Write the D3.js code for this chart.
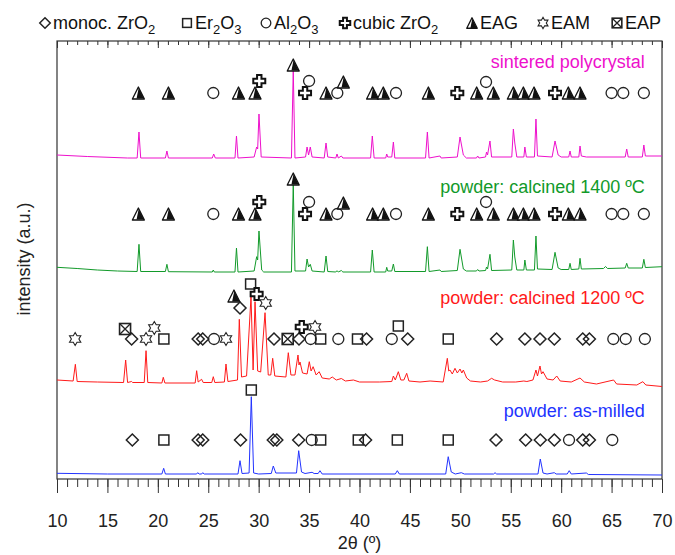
<!DOCTYPE html>
<html>
<head>
<meta charset="utf-8">
<script src="https://cdn.jsdelivr.net/npm/d3@7"></script>
<style>
  body { margin: 0; background: #fff; }
  text { font-family: "Liberation Sans", Arial, sans-serif; }
</style>
</head>
<body>
<div id="chart"></div>
<script>
// x axis ticks
const majorTicks = [10, 15, 20, 25, 30, 35, 40, 45, 50, 55, 60, 65, 70];
const minorTicks = d3.range(10, 71, 1);

// phases shown in the legend
const phaseKeys  = ["mZr", "Er", "Al", "cZr", "EAG", "EAM", "EAP"];
const phaseNames = [["monoc. ZrO", "2"], ["Er", "2", "O", "3"], ["Al", "2", "O", "3"], ["cubic ZrO", "2"], ["EAG"], ["EAM"], ["EAP"]];
const legendX    = [45, 187, 266, 345, 472, 543, 617];

// pattern labels
const seriesNames  = ["sintered polycrystal", "powder: calcined 1400 ºC", "powder: calcined 1200 ºC", "powder: as-milled"];
const seriesColors = ["#ee10cc", "#129a2a", "#ff1a1a", "#2233ff"];
const labelLevel   = [411, 286, 175, 62];

// diffractograms, [2theta, intensity (a.u., stacked)]
const sintered = [[10,324],[13,322.5],[17,321],[17.95,321],[18.13,347],[18.3,321],[20.75,321],[20.9,328],[21.05,321],[25.4,321],[25.54,325],[25.7,321],[27.65,321],[27.8,343],[27.95,321],[29.55,322],[29.8,332],[29.9,330],[30.03,365],[30.25,322],[33.25,321],[33.43,409],[33.6,321],[34.65,322],[34.8,332],[34.95,324],[35.12,332],[35.3,322],[36.5,321],[36.68,336],[36.85,322],[37.65,321],[37.77,325],[37.9,321],[38.2,323],[38.35,321],[41.1,321],[41.27,343],[41.45,321],[42.6,321],[42.7,325],[42.8,322],[43.2,322],[43.36,337],[43.5,321],[46.55,321],[46.73,347],[46.9,321],[47.98,323],[48.1,321],[49.7,322],[49.97,342],[50.3,324],[50.6,321],[51.6,321],[51.72,323],[51.85,321],[52.5,322],[52.6,327],[52.7,324],[52.94,338],[53.1,322],[55.1,322],[55.26,350],[55.4,336],[55.6,322],[56.3,322],[56.4,332],[56.55,322],[57.35,322],[57.5,360],[57.65,323],[59.1,322],[59.39,338],[59.7,324],[60.0,322],[60.75,322],[60.88,328],[61.0,322],[61.75,322],[61.87,333],[62.0,323],[62.5,322],[66.35,322],[66.5,330],[66.65,322],[68.05,322],[68.2,334],[68.35,323],[70,323]];

const calc1400 = [[10,211.7],[12,210.5],[14,209],[16,208],[17.95,207.5],[18.13,234.7],[18.3,207.5],[20.75,207.5],[20.9,214.7],[21.05,207.3],[25.4,207],[25.5,209],[25.6,207],[27.65,207],[27.8,231],[27.95,207],[29.55,208],[29.8,222.3],[29.9,219],[30.03,248],[30.3,209],[30.5,207],[33.25,207],[33.43,295],[33.6,208],[34.65,208],[34.8,220],[34.95,212],[35.12,214.7],[35.3,208],[36.5,207],[36.68,223],[36.85,207.5],[37.65,207],[37.77,208.3],[37.9,207],[38.2,208.5],[38.35,207],[41.1,207],[41.27,229],[41.45,207],[42.6,207],[42.7,211.7],[42.8,208],[43.2,208],[43.36,215],[43.5,207.5],[46.55,207.5],[46.73,232.3],[46.9,207.5],[47.98,209],[48.1,207.5],[49.7,208.5],[49.97,229.7],[50.3,210],[50.6,208],[51.6,208],[51.72,209.5],[51.85,208],[52.5,208.5],[52.6,212],[52.7,210],[52.94,224.7],[53.1,208.5],[55.1,209],[55.26,239],[55.4,222],[55.6,209],[56.3,209],[56.4,219],[56.55,209],[57.35,209],[57.5,243],[57.65,210],[59.1,209.5],[59.39,226.7],[59.7,211],[60.0,209.5],[60.75,209.5],[60.88,215.7],[61.0,209.5],[61.75,210],[61.87,220.7],[62.0,210],[64.2,210.5],[64.4,212.5],[64.6,210.5],[66.35,211],[66.5,215.7],[66.65,211],[68.05,211],[68.2,219.7],[68.35,211.5],[70,212.3]];

const calc1200 = [[10,99],[11.6,98],[11.82,114.7],[12.0,97.5],[14,97],[16.6,96.5],[16.81,119],[17.0,96.5],[17.4,97.5],[17.5,96.5],[18.65,96.5],[18.83,128.3],[19.0,96.5],[20.4,96],[20.54,101.7],[20.7,96],[23.7,96],[23.85,108.3],[24.0,97],[24.34,99.7],[24.5,96.5],[25.35,96.5],[25.5,102.3],[25.65,96.5],[26.6,97],[26.76,115],[26.95,97.5],[27.9,99],[28.08,159.7],[28.3,102],[28.8,103],[29.24,182.3],[29.45,109],[29.64,177.3],[29.9,108],[30.2,107],[30.63,166.3],[30.95,104],[31.2,104],[31.39,120.7],[31.6,103],[32.7,102],[32.94,126.3],[33.2,104],[33.6,104],[33.9,124],[34.0,114],[34.1,117],[34.35,106],[34.8,105],[35.02,117.3],[35.2,108],[35.4,112.3],[35.7,104],[36.0,107.3],[36.3,101],[37.0,100],[37.3,102],[37.7,99],[38.2,100.5],[38.6,98],[39.4,99],[40,97],[42,97],[43.2,97.5],[43.36,103],[43.55,99],[43.85,107.3],[44.1,99],[44.4,99],[44.68,105.7],[44.9,98],[46,97],[47,98],[48.3,97],[48.71,120.7],[48.85,108],[48.97,109],[49.2,105],[49.47,110.7],[49.7,106],[49.97,110],[50.15,106],[50.3,109],[50.63,101],[51,98],[52,97],[52.7,98],[53.1,100.7],[53.4,99],[54.2,97],[55.5,97],[56.3,98],[56.6,97.5],[57.2,99],[57.5,109],[57.65,103],[57.9,113],[58.05,105],[58.2,107.3],[58.6,100],[59.2,99],[59.56,103],[59.9,98],[61.0,97],[61.87,101],[62.3,97],[63.5,95],[65.2,99],[65.5,95],[67.5,94],[68.1,97.3],[68.4,94],[70,92.5]];

const asMilled = [[10,5.7],[15,5],[20.4,5],[20.58,10.7],[20.75,5],[23.85,5],[23.95,6.3],[24.1,5],[24.35,5],[24.45,6.3],[24.6,5],[27.95,5],[28.15,18.3],[28.35,5.5],[29.05,6],[29.27,82.3],[29.5,6],[30,5],[31.25,5.5],[31.45,13],[31.7,6],[33.75,6],[33.97,28.3],[34.25,7],[34.6,5.5],[35.3,6.7],[35.5,5.5],[35.9,5.5],[36.08,8.3],[36.3,5],[43.55,5],[43.75,8.3],[43.95,5],[48.55,5],[48.8,22.3],[49.1,7],[49.5,5],[50.1,6.3],[50.4,5],[53.3,5],[53.44,6.3],[53.6,5],[57.7,5],[57.93,20],[58.2,6],[58.6,5],[59.32,6.3],[59.5,5],[60.6,5],[60.8,8.3],[61.0,5],[62.5,6],[62.7,4.5],[70,4]];

// phase markers, [phase, 2theta, level]
const sinteredMarks = [["EAG",18.07,386],["EAG",21.05,386],["Al",25.5,386],["EAG",28.0,386],["EAG",29.64,386],["cZr",30.06,398],["EAG",33.43,414],["cZr",34.6,386],["Al",35.0,398],["EAG",36.68,386],["Al",37.8,386],["EAG",38.4,397],["EAG",41.3,386],["EAG",42.36,386],["Al",43.62,386],["EAG",46.83,386],["cZr",49.7,386],["EAG",51.62,386],["Al",52.55,397],["EAG",53.27,386],["EAG",55.26,386],["EAG",56.25,386],["EAG",57.31,386],["cZr",59.39,386],["EAG",60.71,386],["EAG",61.87,386],["Al",65.0,386],["Al",66.16,386],["Al",68.2,386]];

const calc1400Marks = [["EAG",18.07,265],["EAG",21.05,265],["Al",25.5,265],["EAG",28.0,265],["EAG",29.64,265],["cZr",30.06,277],["EAG",33.43,300],["cZr",34.6,265],["Al",35.0,277],["EAG",36.68,265],["Al",37.8,265],["EAG",38.4,276],["EAG",41.3,265],["EAG",42.36,265],["Al",43.62,265],["EAG",46.83,265],["cZr",49.7,265],["EAG",51.62,265],["Al",52.55,277],["EAG",53.27,265],["EAG",55.26,265],["EAG",56.25,265],["EAG",57.31,265],["cZr",59.39,265],["EAG",60.71,265],["EAG",61.87,265],["Al",65.0,265],["Al",66.16,265],["Al",68.2,265]];

const calc1200Marks = [["EAM",11.8,140],["EAP",16.75,150],["mZr",17.4,140],["EAM",18.83,140],["EAM",19.65,151],["Er",20.6,140],["mZr",24.0,140],["mZr",24.45,140],["Al",25.57,140],["EAM",26.76,140],["EAG",27.55,183],["mZr",28.15,171],["Er",29.2,195],["cZr",29.8,185],["EAM",30.7,176],["mZr",31.52,140],["EAP",32.88,140],["mZr",34.0,140],["cZr",34.27,152],["Al",35.16,140],["EAM",35.59,152],["Er",36.15,140],["Al",37.9,140],["Er",39.8,140],["mZr",40.7,140],["Al",43.2,140],["Er",43.85,153],["mZr",44.78,140],["Er",48.8,140],["mZr",53.6,140],["mZr",56.4,140],["mZr",57.9,140],["mZr",59.32,140],["mZr",62.14,140],["mZr",62.8,140],["Al",65.17,140],["Al",66.4,140],["Al",68.3,140]];

const asMilledMarks = [["mZr",17.47,39],["Er",20.6,39],["mZr",24.0,39],["mZr",24.45,39],["mZr",28.2,39],["Er",29.27,89],["mZr",31.45,39],["mZr",31.8,39],["mZr",33.97,39],["Al",35.26,39],["Er",36.15,39],["Er",39.88,39],["mZr",40.6,39],["Er",43.75,39],["Er",48.8,39],["mZr",53.54,39],["mZr",56.48,39],["mZr",57.93,39],["mZr",59.32,39],["Al",60.78,39],["mZr",62.14,39],["mZr",62.8,39],["Al",65.07,39]];

const traces = [sintered, calc1400, calc1200, asMilled];
const traceMarks = [sinteredMarks, calc1400Marks, calc1200Marks, asMilledMarks];

// layout
const W = 675, H = 555;
const margin = {top: 41, right: 13, bottom: 76, left: 57};
const width = W - margin.left - margin.right,
      height = H - margin.top - margin.bottom;

const svg = d3.select("#chart").append("svg")
    .attr("width", W)
    .attr("height", H);

const x = d3.scaleLinear().domain([10, 70]).range([0, width]);
const y = d3.scaleLinear().domain([0, 438]).range([height, 0]);

const g = svg.append("g")
    .attr("transform", `translate(${margin.left},${margin.top})`);

// frame
g.append("rect")
    .attr("width", width).attr("height", height)
    .attr("fill", "none").attr("stroke", "#333").attr("stroke-width", 1.2);

// bottom axis: minor + major with labels
const bottomMinor = g.append("g")
    .attr("transform", `translate(0,${height})`)
    .call(d3.axisBottom(x).tickValues(minorTicks).tickSize(8).tickFormat(""));
const bottomMajor = g.append("g")
    .attr("transform", `translate(0,${height})`)
    .call(d3.axisBottom(x).tickValues(majorTicks).tickSize(14).tickPadding(21).tickFormat(d3.format("d")));
// top axis, ticks inward
const topMinor = g.append("g")
    .call(d3.axisBottom(x).tickValues(minorTicks).tickSize(4).tickFormat(""));
const topMajor = g.append("g")
    .call(d3.axisBottom(x).tickValues(majorTicks).tickSize(7).tickFormat(""));

[bottomMinor, bottomMajor, topMinor, topMajor].forEach(a => {
    a.select(".domain").remove();
    a.selectAll(".tick line").attr("stroke", "#333").attr("stroke-width", 1);
});
bottomMajor.selectAll("text")
    .attr("font-size", 18).attr("fill", "#222")
    .attr("font-family", "Liberation Sans, Arial, sans-serif");

// axis titles
svg.append("text")
    .attr("x", margin.left + width / 2).attr("y", 549)
    .attr("text-anchor", "middle").attr("font-size", 18).attr("fill", "#222")
    .text("2θ (º)");
svg.append("text")
    .attr("transform", `translate(30,${margin.top + 218}) rotate(-90)`)
    .attr("text-anchor", "middle").attr("font-size", 18).attr("fill", "#222")
    .text("intensity (a.u.)");

// symbol shapes
function symbol(sel, key, s) {
    const k = s / 12;
    if (key === "mZr") {
        sel.append("path").attr("d", `M0,${-6*k}L${6*k},0L0,${6*k}L${-6*k},0Z`)
            .attr("fill", "none").attr("stroke", "#222").attr("stroke-width", 1.5);
    } else if (key === "Er") {
        sel.append("rect").attr("x", -5*k).attr("y", -5*k).attr("width", 10*k).attr("height", 10*k)
            .attr("fill", "none").attr("stroke", "#222").attr("stroke-width", 1.5);
    } else if (key === "Al") {
        sel.append("circle").attr("r", 5.5*k)
            .attr("fill", "none").attr("stroke", "#222").attr("stroke-width", 1.3);
    } else if (key === "cZr") {
        const a = 2.2*k, e = 6*k;
        sel.append("path")
            .attr("d", `M${-a},${-e}H${a}V${-a}H${e}V${a}H${a}V${e}H${-a}V${a}H${-e}V${-a}H${-a}Z`)
            .attr("fill", "#fff").attr("stroke", "#111").attr("stroke-width", 2);
    } else if (key === "EAG") {
        sel.append("path").attr("d", `M0,${-6*k}L${6*k},${6*k}L${-6*k},${6*k}Z`)
            .attr("fill", "#fff").attr("stroke", "#111").attr("stroke-width", 1.3).attr("stroke-linejoin", "round");
        sel.append("path").attr("d", `M${0.3*k},${-5*k}L${5.6*k},${5.6*k}L${-1.8*k},${5.6*k}Z`)
            .attr("fill", "#111");
    } else if (key === "EAM") {
        const pts = d3.range(12).map(i => {
            const r = i % 2 === 0 ? 6.5*k : 3.75*k;
            const a = -Math.PI / 2 + i * Math.PI / 6;
            return [r * Math.cos(a), r * Math.sin(a)];
        });
        sel.append("path").attr("d", "M" + pts.join("L") + "Z")
            .attr("fill", "none").attr("stroke", "#222").attr("stroke-width", 1.1);
    } else if (key === "EAP") {
        const h = 5.5*k;
        sel.append("rect").attr("x", -h).attr("y", -h).attr("width", 2*h).attr("height", 2*h)
            .attr("fill", "none").attr("stroke", "#222").attr("stroke-width", 1.6);
        sel.append("path").attr("d", `M${-h},${-h}L${h},${h}M${h},${-h}L${-h},${h}`)
            .attr("stroke", "#222").attr("stroke-width", 1.3);
    }
}

// traces
const line = d3.line().x(d => x(d[0])).y(d => y(d[1]));
g.selectAll(".trace")
    .data(traces)
    .join("path")
    .attr("class", "trace")
    .attr("d", line)
    .attr("fill", "none")
    .attr("stroke", (d, i) => seriesColors[i])
    .attr("stroke-width", 1)
    .attr("stroke-linejoin", "round");

// phase markers
traceMarks.forEach(marks => {
    marks.forEach(m => {
        const s = g.append("g").attr("transform", `translate(${x(m[1])},${y(m[2])})`);
        symbol(s, m[0], 12);
    });
});

// pattern labels
g.selectAll(".lab")
    .data(seriesNames)
    .join("text")
    .attr("class", "lab")
    .attr("x", x(68.3))
    .attr("y", (d, i) => y(labelLevel[i]))
    .attr("text-anchor", "end")
    .attr("font-size", 18)
    .attr("fill", (d, i) => seriesColors[i])
    .text(d => d);

// legend
const leg = svg.append("g");
phaseKeys.forEach((k, i) => {
    const s = leg.append("g").attr("transform", `translate(${legendX[i]},23)`);
    symbol(s, k, 10.5);
    const t = leg.append("text")
        .attr("x", legendX[i] + 8).attr("y", 29)
        .attr("font-size", 18).attr("fill", "#111");
    phaseNames[i].forEach((part, j) => {
        const sub = j % 2 === 1;
        t.append("tspan")
            .attr("font-size", sub ? 13 : 18)
            .attr("dy", sub ? 5 : (j > 0 ? -5 : 0))
            .text(part);
    });
});
</script>
</body>
</html>
